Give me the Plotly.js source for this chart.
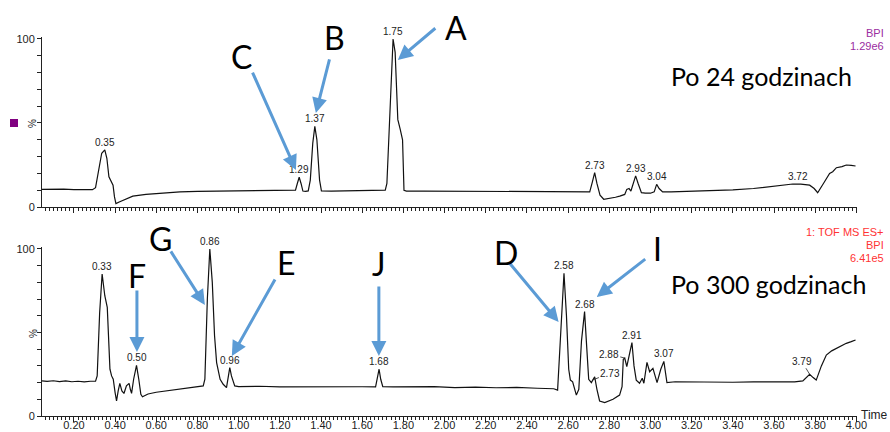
<!DOCTYPE html>
<html>
<head>
<meta charset="utf-8">
<script src="https://cdn.plot.ly/plotly-3.0.1.min.js"></script>
<style>html,body{margin:0;padding:0;background:#fff;}#chart{width:890px;height:432px;}</style>
</head>
<body>
<div id="chart"></div>
<script>
// ---- Data (retention time in min, relative intensity in %) ----
const TIME_24 = [0.045,0.10,0.15,0.20,0.25,0.29,0.305,0.32,0.335,0.350,0.36,0.37,0.383,0.39,0.397,0.404,0.42,0.45,0.486,0.55,0.62,0.715,0.80,0.90,1.00,1.10,1.20,1.263,1.276,1.285,1.294,1.303,1.312,1.325,1.338,1.348,1.36,1.370,1.38,1.393,1.402,1.45,1.55,1.65,1.712,1.72,1.735,1.750,1.76,1.768,1.773,1.785,1.796,1.803,1.815,1.9,2.0,2.1,2.2,2.3,2.4,2.5,2.6,2.68,2.705,2.718,2.729,2.74,2.755,2.773,2.80,2.83,2.851,2.875,2.885,2.896,2.905,2.915,2.928,2.94,2.956,2.975,3.00,3.018,3.030,3.042,3.059,3.10,3.2,3.3,3.4,3.5,3.6,3.691,3.73,3.773,3.795,3.812,3.84,3.870,3.885,3.903,3.93,3.951,3.975,3.996];
const BPI_24 = [10.5,10.7,10.6,10.4,10.2,10.3,11.5,22,32,34,29,18,14,13,6,2,3,4.8,6.5,7.5,8.2,9,9.3,9.4,9.6,9.6,9.5,9.7,10,14,17.7,14,9.5,9.3,9.6,16,38,48,40,16,9.6,9.5,9.6,9.8,10,14,55,100,92,70,52,46,40,10,9.5,9.5,9.4,9.4,9.3,9.3,9.2,9.1,9.0,8.6,9,15,20.4,14,7,4.6,5,5.8,6.5,7.5,10.5,11,9.5,14,18.5,14,8.5,8.3,8.2,9,13.5,11,9,9,9.3,9.7,10.2,11,12.3,13.7,13.6,13,11,8.5,14,20,21,23.4,24,25,24.8,24.4];

const TIME_300 = [0.045,0.07,0.10,0.13,0.16,0.19,0.22,0.25,0.28,0.305,0.313,0.325,0.337,0.35,0.362,0.368,0.375,0.383,0.391,0.400,0.407,0.415,0.423,0.433,0.443,0.455,0.468,0.474,0.480,0.49,0.504,0.515,0.525,0.533,0.56,0.60,0.650,0.70,0.75,0.80,0.828,0.836,0.848,0.860,0.872,0.883,0.893,0.91,0.925,0.941,0.95,0.957,0.965,0.981,1.0,1.1,1.2,1.3,1.4,1.5,1.6,1.665,1.673,1.682,1.69,1.70,1.75,1.85,1.95,2.05,2.15,2.25,2.35,2.45,2.53,2.549,2.562,2.580,2.592,2.603,2.611,2.622,2.640,2.652,2.665,2.680,2.69,2.700,2.713,2.729,2.740,2.753,2.778,2.80,2.818,2.85,2.862,2.868,2.875,2.885,2.895,2.910,2.92,2.931,2.947,2.960,2.968,2.983,2.996,3.012,3.032,3.050,3.065,3.080,3.12,3.2,3.3,3.4,3.5,3.6,3.7,3.74,3.773,3.79,3.805,3.83,3.854,3.88,3.903,3.93,3.951,3.975,3.996];
const BPI_300 = [21,20.7,21.1,20.6,21,20.5,20.8,20.4,20.8,20.8,24,62,85,72,65,45,28,24,22,14,9,15,19.5,15,13.5,18,19.5,16,13.5,22,30.3,22,13,11.5,13.2,14.2,15,16,16.8,17.6,18,22,70,100,80,48,32,22,19,17,23,29,24,18,17.6,17.8,17.4,17.5,17.6,17.3,17.5,17.4,22,28,22,17.6,17.4,17.3,17.6,17,17.3,16.9,17.1,16.6,16.3,15.5,45,85.5,60,28,21.5,20.5,12.5,16,45,62.5,42,22,20,23.5,16,9,8,9,10,12.5,17.5,34,34.7,29.5,36,44,30,21.5,19.6,22.6,19.6,32.1,26.5,28.5,20,28,32.7,20,20.5,20.3,20.5,20.2,20.4,20.2,20.4,21,25,23,21.5,30,36.5,39,40.5,42,43.5,44.5,45.5];

// peak labels (time, height, text)
const PEAK_T_24 = [0.350,1.294,1.370,1.750,2.729,2.928,3.030,3.715];
const PEAK_Y_24 = [34,17.7,48,100,20.4,18.5,13.5,13.7];
const PEAK_L_24 = ['0.35','1.29','1.37','1.75','2.73','2.93','3.04','3.72'];

const PEAK_T_300 = [0.337,0.504,0.860,0.957,1.682,2.580,2.680,2.910,3.065];
const PEAK_Y_300 = [85,30.3,100,29,28,85.5,62.5,44,32.7];
const PEAK_L_300 = ['0.33','0.50','0.86','0.96','1.68','2.58','2.68','2.91','3.07'];

// labels with leader lines (bottom panel)
const LEAD_T_300 = [2.875,2.718,3.773];
const LEAD_Y_300 = [34.7,21.5,25];
const LEAD_L_300 = ['2.88','2.73','3.79'];

// compound markers: letter, panel, target time, target height
const MARK_L = ['A','B','C','G','F','E','J','D','I'];
const MARK_P = ['24','24','24','300','300','300','300','300','300'];
const MARK_T = [1.773,1.375,1.278,0.836,0.506,0.967,1.681,2.554,2.739];
const MARK_Y = [87.5,56,22,66.5,38.3,35.9,35.9,56.3,71.3];

// ---- Styling / layout (pixel geometry) ----
const W = 890, H = 432;
const px = x => x / W;
const py = y => 1 - y / H;
const FONT = 'Liberation Sans, Arial, sans-serif';
const BIG = 'Lato, Open Sans, sans-serif';
const ARROW = '#5B9BD5';

// arrow tail offsets (px) and letter positions (px)
const MARK_AX = [39,14,-44,-35,0,44,0,-50,50];
const MARK_AY = [-33,-55,-99,-55,-63,-78,-71,-60,-39];
const MARK_LX = [456,334,241,160,137,286,379,506,657];
const MARK_LY = [28,37,57,239,275,262,263,252,249];
const LEAD_AX = [-16,18,-8];
const LEAD_AY = [-4,-7,-13];

const traces = [
  {x: TIME_300, y: BPI_300, xaxis:'x', yaxis:'y', mode:'lines', line:{color:'#111', width:1.2}, hoverinfo:'skip'},
  {x: TIME_24, y: BPI_24, xaxis:'x2', yaxis:'y2', mode:'lines', line:{color:'#111', width:1.2}, hoverinfo:'skip'}
];

const ann = [];
PEAK_T_24.forEach((t,i)=>ann.push({x:t, y:PEAK_Y_24[i], xref:'x2', yref:'y2', text:PEAK_L_24[i], showarrow:false, yanchor:'bottom', yshift:0, font:{family:FONT, size:10, color:'#222'}}));
PEAK_T_300.forEach((t,i)=>ann.push({x:t, y:PEAK_Y_300[i], xref:'x', yref:'y', text:PEAK_L_300[i], showarrow:false, yanchor:'bottom', yshift:0, font:{family:FONT, size:10, color:'#222'}}));
LEAD_T_300.forEach((t,i)=>ann.push({x:t, y:LEAD_Y_300[i], xref:'x', yref:'y', text:LEAD_L_300[i], showarrow:true, arrowhead:0, arrowwidth:0.8, arrowcolor:'#222', ax:LEAD_AX[i], ay:LEAD_AY[i], standoff:0, font:{family:FONT, size:10, color:'#222'}}));
MARK_L.forEach((l,i)=>{
  const top = MARK_P[i]==='24';
  ann.push({x:MARK_T[i], y:MARK_Y[i], xref: top?'x2':'x', yref: top?'y2':'y', text:'', showarrow:true, arrowhead:2, arrowsize:1, arrowwidth:3, arrowcolor:ARROW, ax:MARK_AX[i], ay:MARK_AY[i], standoff:0});
  ann.push({x:px(MARK_LX[i]), y:py(MARK_LY[i]), xref:'paper', yref:'paper', text:l, showarrow:false, xanchor:'center', yanchor:'middle', font:{family:BIG, size:32, color:'#000'}});
});
// panel titles and info text
ann.push({x:px(669), y:py(76), xref:'paper', yref:'paper', text:'Po 24 godzinach', showarrow:false, xanchor:'left', yanchor:'middle', font:{family:BIG, size:25, color:'#000'}});
ann.push({x:px(669), y:py(284), xref:'paper', yref:'paper', text:'Po 300 godzinach', showarrow:false, xanchor:'left', yanchor:'middle', font:{family:BIG, size:25, color:'#000'}});
ann.push({x:px(886), y:py(33), xref:'paper', yref:'paper', text:'BPI', showarrow:false, xanchor:'right', yanchor:'middle', font:{family:FONT, size:11, color:'#9B2D9F'}});
ann.push({x:px(886), y:py(46), xref:'paper', yref:'paper', text:'1.29e6', showarrow:false, xanchor:'right', yanchor:'middle', font:{family:FONT, size:11, color:'#9B2D9F'}});
ann.push({x:px(886), y:py(232), xref:'paper', yref:'paper', text:'1: TOF MS ES+', showarrow:false, xanchor:'right', yanchor:'middle', font:{family:FONT, size:11, color:'#FF3333'}});
ann.push({x:px(886), y:py(245), xref:'paper', yref:'paper', text:'BPI', showarrow:false, xanchor:'right', yanchor:'middle', font:{family:FONT, size:11, color:'#FF3333'}});
ann.push({x:px(886), y:py(258), xref:'paper', yref:'paper', text:'6.41e5', showarrow:false, xanchor:'right', yanchor:'middle', font:{family:FONT, size:11, color:'#FF3333'}});
ann.push({x:px(859), y:py(415), xref:'paper', yref:'paper', text:'Time', showarrow:false, xanchor:'left', yanchor:'middle', font:{family:FONT, size:12, color:'#222'}});
ann.push({x:px(33), y:py(124), xref:'paper', yref:'paper', text:'%', textangle:-90, showarrow:false, xanchor:'center', yanchor:'middle', font:{family:FONT, size:10, color:'#222'}});
ann.push({x:px(33), y:py(334), xref:'paper', yref:'paper', text:'%', textangle:-90, showarrow:false, xanchor:'center', yanchor:'middle', font:{family:FONT, size:10, color:'#222'}});

const yTicks = [0,10,20,30,40,50,60,70,80,90,100];
const yText = yTicks.map(v => (v===0||v===100) ? String(v) : '');

const xBase = {
  domain:[px(42), px(857)], range:[0.045, 4.003], tickmode:'linear', tick0:0, dtick:0.2, tickformat:'.2f',
  ticks:'outside', ticklen:5, tickwidth:1, tickcolor:'#222', ticklabelstandoff:-6,
  minor:{dtick:0.02, ticks:'outside', ticklen:3, tickwidth:1, tickcolor:'#222'},
  showline:true, linecolor:'#222', linewidth:1, showgrid:false, zeroline:false,
  tickfont:{family:FONT, size:11, color:'#222'}
};
const yBase = {
  range:[0,101], tickmode:'array', tickvals:yTicks, ticktext:yText,
  ticks:'outside', ticklen:4, tickwidth:1, tickcolor:'#222',
  showline:true, linecolor:'#222', linewidth:1, showgrid:false, zeroline:false,
  tickfont:{family:FONT, size:11, color:'#222'}
};

const layout = {
  width:W, height:H, margin:{l:0,r:0,t:0,b:0}, paper_bgcolor:'#fff', plot_bgcolor:'#fff', showlegend:false,
  xaxis: Object.assign({}, xBase, {anchor:'y'}),
  xaxis2: Object.assign({}, xBase, {anchor:'y2', showticklabels:false}),
  yaxis: Object.assign({}, yBase, {anchor:'x', domain:[py(416), py(247.3)]}),
  yaxis2: Object.assign({}, yBase, {anchor:'x2', domain:[py(207), py(37.3)]}),
  annotations: ann,
  shapes: [{type:'rect', xref:'paper', yref:'paper', x0:px(10), x1:px(18), y0:py(127), y1:py(119), fillcolor:'#800080', line:{width:0}}]
};

Plotly.newPlot('chart', traces, layout, {staticPlot:true, displayModeBar:false});
</script>
</body>
</html>
